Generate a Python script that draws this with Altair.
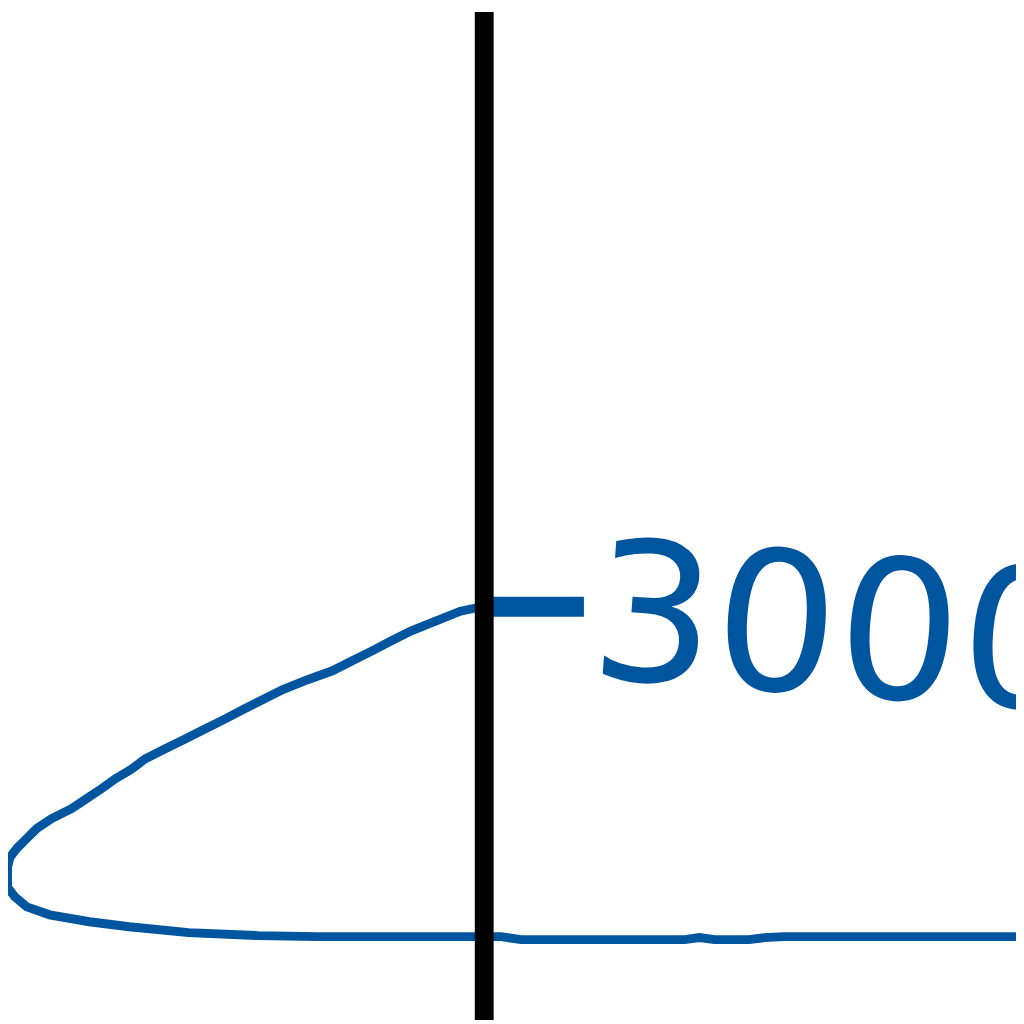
import altair as alt
import pandas as pd

# Path of the blue series, in drawing order (x: horizontal units, y: value)
path_x = [0.0, -2.4, -4.9, -7.4, -9.4, -11.3, -13.3, -15.3, -17.8, -20.3,
          -22.3, -24.3, -26.2, -28.2, -30.2, -32.2, -34.2, -35.5, -37.2, -38.6,
          -40.1, -41.6, -43.6, -45.1, -46.1, -47.1, -47.8, -48.05, -48.05, -47.3,
          -46.1, -43.8, -39.8, -35.8, -29.8, -22.8, -16.8, 1.7, 3.7, 20.2,
          21.7, 23.2, 26.7, 28.2, 30.2, 54.2]
path_y = [3000, 2955, 2865, 2775, 2685, 2595, 2505, 2414, 2333, 2243,
          2153, 2063, 1973, 1883, 1793, 1703, 1613, 1523, 1432, 1342,
          1252, 1162, 1072, 982, 892, 802, 721, 631, 450, 360,
          270, 198, 135, 90, 36, 9, 0, 0, -27, -27,
          -9, -27, -27, -9, 0, 0]

tick_values = [3000]
axis_x = [0]

BLUE = "#00559F"

df = pd.DataFrame({"x": path_x, "y": path_y, "order": list(range(len(path_x)))})

x_scale = alt.Scale(domain=[-48, 53.6], nice=False, zero=False)
y_scale = alt.Scale(domain=[-757, 8396], nice=False, zero=False)

line = alt.Chart(df).mark_line(color=BLUE, strokeWidth=9, clip=True).encode(
    x=alt.X("x:Q", scale=x_scale, axis=None),
    y=alt.Y(
        "y:Q",
        scale=y_scale,
        axis=alt.Axis(
            orient="right",
            offset=-536,
            values=tick_values,
            format="d",
            domain=False,
            grid=False,
            ticks=True,
            tickColor=BLUE,
            tickWidth=20,
            tickSize=100,
            labelColor=BLUE,
            labelFont="DejaVu Sans",
            labelFontSize=195,
            labelAngle=4,
            labelAlign="left",
            labelBaseline="middle",
            labelPadding=8,
            labelOffset=12,
            labelLimit=2000,
            labelOverlap=False,
            title="",
        ),
    ),
    order=alt.Order("order:Q"),
)

rule = alt.Chart(pd.DataFrame({"x": axis_x})).mark_rule(
    color="black", strokeWidth=19
).encode(x=alt.X("x:Q", scale=x_scale, axis=None))

chart = (
    alt.layer(line, rule)
    .properties(width=1016, height=1016, autosize=alt.AutoSizeParams(type="none"), padding=0)
    .configure_view(strokeWidth=0)
)

chart.save("out.html", embed_options={"renderer": "svg", "actions": False})
